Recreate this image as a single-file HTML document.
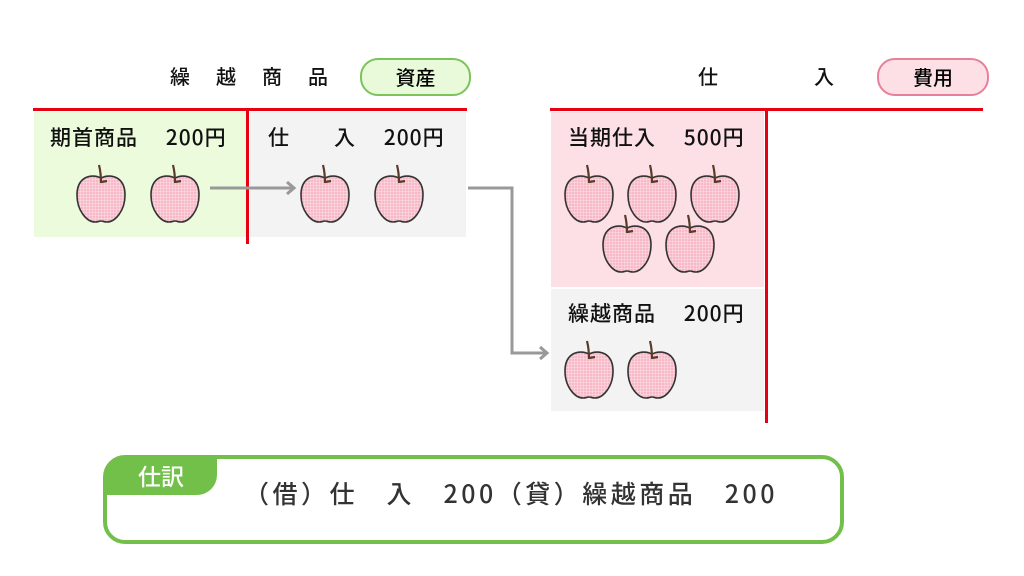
<!DOCTYPE html>
<html><head><meta charset="utf-8"><style>
body{margin:0;width:1024px;height:576px;background:#fff;position:relative;overflow:hidden;font-family:"Noto Sans CJK JP","Liberation Sans",sans-serif;}
.a{position:absolute;}
.t{position:absolute;font-size:21px;color:#111;white-space:pre;line-height:1;font-weight:500;letter-spacing:1px;}
</style></head><body>
<div class="a" style="left:34px;top:112px;width:214px;height:125px;background:#ebfbdc"></div>
<div class="a" style="left:250px;top:112px;width:216px;height:125px;background:#f3f3f3"></div>
<div class="a" style="left:551px;top:112px;width:213px;height:175px;background:#fde0e6"></div>
<div class="a" style="left:551px;top:289px;width:213px;height:122px;background:#f3f3f3"></div>
<div class="a" style="left:33px;top:108px;width:434px;height:3px;background:#e60012"></div>
<div class="a" style="left:246px;top:110px;width:3px;height:134px;background:#e60012"></div>
<div class="a" style="left:550px;top:108px;width:433px;height:3px;background:#e60012"></div>
<div class="a" style="left:765px;top:110px;width:3px;height:313px;background:#e60012"></div>

<div class="t" style="left:170px;top:66px;font-size:20px;letter-spacing:3px">繰　越　商　品</div>
<div class="a" style="left:360px;top:58px;width:107px;height:34px;border:2px solid #7cc35a;border-radius:18px;background:#e8fad9;text-align:center;line-height:34px;font-size:20px;font-weight:500">資産</div>
<div class="t" style="left:698px;top:66px;font-size:20px">仕</div>
<div class="t" style="left:814px;top:66px;font-size:20px">入</div>
<div class="a" style="left:877px;top:58px;width:108px;height:34px;border:2px solid #e8809a;border-radius:18px;background:#fde0e6;text-align:center;line-height:34px;font-size:20px;font-weight:500">費用</div>

<div class="t" style="left:50px;top:127px">期首商品　 200円</div>
<div class="t" style="left:268px;top:127px">仕　　入　 200円</div>
<div class="t" style="left:568px;top:127px">当期仕入　 500円</div>
<div class="t" style="left:568px;top:303px">繰越商品　 200円</div>

<svg class="a" style="left:0;top:0" width="1024" height="576">
<defs>
<pattern id="g" width="3" height="3" patternUnits="userSpaceOnUse"><rect width="3" height="3" fill="#f7b9c8"/><path d="M0 0H3M0 0V3" stroke="#fff" stroke-width="0.8" opacity="0.7"/></pattern>
<g id="ap">
<path d="M0 -19 C-10 -24 -24 -20 -24 -2 C-24 14 -14 25 -6 25 C-3 25 -2 24 0 24 C2 24 3 25 6 25 C14 25 24 14 24 -2 C24 -20 10 -24 0 -19Z" fill="url(#g)" stroke="#333" stroke-width="1.6"/>
<path d="M-2 -32 Q0 -24 0 -14 M0 -15 L6 -16" stroke="#5a3b2a" stroke-width="2.2" fill="none"/>
</g>
<marker id="m" markerWidth="12" markerHeight="14" refX="9" refY="7" orient="auto" markerUnits="userSpaceOnUse"><path d="M2 1 L9 7 L2 13" stroke="#999" stroke-width="3" fill="none"/></marker>
</defs>
<use href="#ap" x="101" y="197"/><use href="#ap" x="175" y="197"/>
<use href="#ap" x="325" y="197"/><use href="#ap" x="399" y="197"/>
<use href="#ap" x="589" y="197"/><use href="#ap" x="652" y="197"/><use href="#ap" x="715" y="197"/>
<use href="#ap" x="627" y="247"/><use href="#ap" x="690" y="247"/>
<use href="#ap" x="589" y="373"/><use href="#ap" x="652" y="373"/>
<path d="M210 188 H294" stroke="#999" stroke-width="3" fill="none" marker-end="url(#m)"/>
<path d="M468 188 H512 V353 H547" stroke="#999" stroke-width="3" fill="none" marker-end="url(#m)"/>
</svg>

<div class="a" style="left:103px;top:455px;width:733px;height:81px;border:4px solid #72c04a;border-radius:22px"></div>
<div class="a" style="left:105px;top:457px;width:112px;height:38px;background:#72c04a;border-radius:20px 0 20px 0;color:#fff;font-size:23px;line-height:36px;text-align:center;font-weight:500">仕訳</div>
<div class="t" style="left:244px;top:481px;font-size:25px;color:#333;letter-spacing:3.5px">（借）仕　入　200（貸）繰越商品　200</div>
</body></html>
